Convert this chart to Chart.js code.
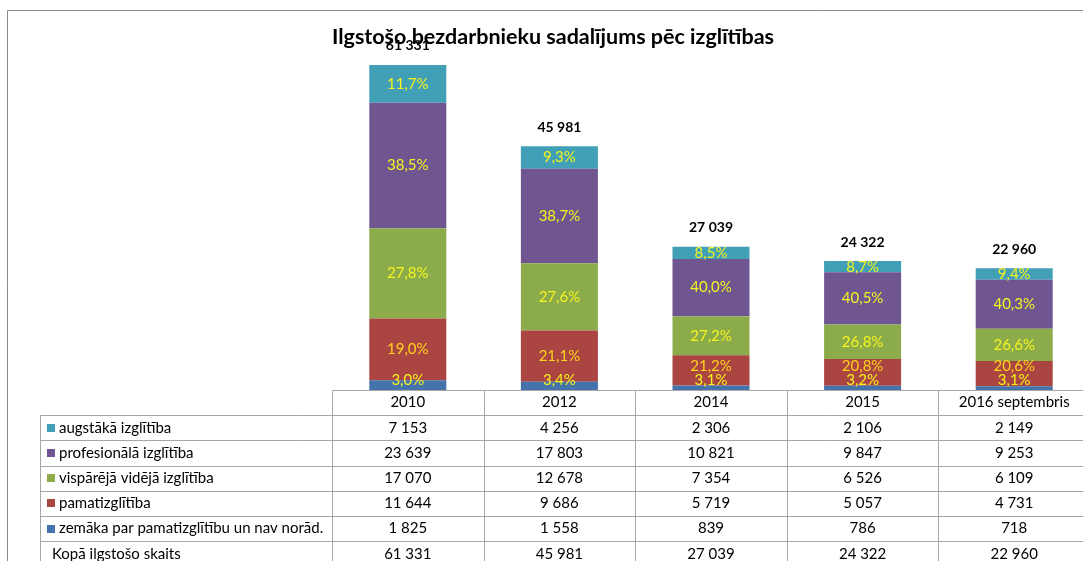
<!DOCTYPE html>
<html>
<head>
<meta charset="utf-8">
<script src="https://cdn.jsdelivr.net/npm/chart.js@4"></script>
<style>
  html, body { margin: 0; padding: 0; background: #fff; overflow: hidden; }
  canvas { display: block; }
</style>
</head>
<body>
<canvas id="chart" width="1090" height="561"></canvas>
<script>
// data
const categories = ['2010', '2012', '2014', '2015', '2016 septembris'];
const augstaka = [7153, 4256, 2306, 2106, 2149];
const profesionala = [23639, 17803, 10821, 9847, 9253];
const visparejaVideja = [17070, 12678, 7354, 6526, 6109];
const pamatizglitiba = [11644, 9686, 5719, 5057, 4731];
const zemaka = [1825, 1558, 839, 786, 718];
const kopa = [61331, 45981, 27039, 24322, 22960];

const titleText = 'Ilgstošo bezdarbnieku sadalījums pēc izglītības';
const FONT = 'Lato, "Liberation Sans", sans-serif';

// bottom -> top in the stack
const series = [
  { label: 'zemāka par pamatizglītību un nav norād.', data: zemaka, color: '#4472AA' },
  { label: 'pamatizglītība', data: pamatizglitiba, color: '#AA4541' },
  { label: 'vispārējā vidējā izglītība', data: visparejaVideja, color: '#8CAB4B' },
  { label: 'profesionālā izglītība', data: profesionala, color: '#6F5691' },
  { label: 'augstākā izglītība', data: augstaka, color: '#419FB6' }
];

function fmt(n) { return String(n).replace(/\B(?=(\d{3})+(?!\d))/g, ' '); }
function pct(v, t) { return (v / t * 100).toFixed(1).replace('.', ',') + '%'; }
function px(v) { return Math.round(v) + 0.5; }

const overlay = {
  id: 'overlay',
  afterDatasetsDraw(chart) {
    const ctx = chart.ctx;
    ctx.save();
    ctx.textAlign = 'center';
    ctx.textBaseline = 'middle';
    categories.forEach((c, i) => {
      let prevY = null;
      chart.data.datasets.forEach((ds, di) => {
        const bar = chart.getDatasetMeta(di).data[i];
        let y = (bar.y + bar.base) / 2;
        if (di === 0) y = Math.min(y, bar.base - 10);
        if (di === 1) y = Math.min(y, prevY - 14);
        prevY = y;
        ctx.font = '15px ' + FONT;
        ctx.fillStyle = di === 1 ? '#FFD21E' : '#F4F41E';
        ctx.fillText(pct(ds.data[i], kopa[i]), bar.x, y);
      });
      // total above the bar
      const topBar = chart.getDatasetMeta(series.length - 1).data[i];
      ctx.font = 'bold 14px ' + FONT;
      ctx.fillStyle = '#000';
      ctx.fillText(fmt(kopa[i]), topBar.x, topBar.y - 19);
    });
    ctx.restore();
  },
  afterDraw(chart) {
    const ctx = chart.ctx;
    const xs = chart.scales.x;
    const colW = (xs.right - xs.left) / categories.length;
    const top = chart.chartArea.bottom;
    const rowH = 25.2;
    const labelLeft = 40;
    const rows = series.slice().reverse().map(s => ({ label: s.label, data: s.data, color: s.color }));
    rows.push({ label: 'Kopā ilgstošo skaits', data: kopa, color: null });

    ctx.save();
    // outer frame
    ctx.strokeStyle = '#8a8a8a';
    ctx.lineWidth = 1;
    ctx.beginPath();
    ctx.moveTo(px(7), chart.height);
    ctx.lineTo(px(7), px(10));
    ctx.lineTo(chart.width, px(10));
    ctx.stroke();

    // title
    ctx.fillStyle = '#000';
    ctx.font = 'bold 21.5px ' + FONT;
    ctx.textAlign = 'center';
    ctx.textBaseline = 'middle';
    ctx.fillText(titleText, 553, 37);

    // table grid
    ctx.strokeStyle = '#a6a6a6';
    ctx.beginPath();
    ctx.moveTo(px(xs.left), px(top));
    ctx.lineTo(xs.right, px(top));
    for (let i = 0; i <= categories.length; i++) {
      const x = px(xs.left + i * colW);
      ctx.moveTo(x, px(top));
      ctx.lineTo(x, chart.height);
    }
    for (let r = 0; r <= rows.length; r++) {
      const y = px(top + rowH * (r + 1));
      ctx.moveTo(px(labelLeft), y);
      ctx.lineTo(xs.right, y);
    }
    ctx.moveTo(px(labelLeft), px(top + rowH));
    ctx.lineTo(px(labelLeft), chart.height);
    ctx.stroke();

    // header text
    ctx.font = '15px ' + FONT;
    ctx.fillStyle = '#000';
    categories.forEach((c, i) => {
      ctx.fillText(c, xs.left + (i + 0.5) * colW, top + rowH / 2);
    });

    // rows
    rows.forEach((row, r) => {
      const yc = top + rowH * (r + 1.5);
      if (row.color) {
        ctx.fillStyle = row.color;
        ctx.fillRect(47, Math.round(yc - 4), 8, 8);
      }
      ctx.fillStyle = '#000';
      ctx.textAlign = 'left';
      ctx.fillText(row.label, row.color ? 59 : 52, yc);
      ctx.textAlign = 'center';
      row.data.forEach((v, i) => {
        ctx.fillText(fmt(v), xs.left + (i + 0.5) * colW, yc);
      });
    });
    ctx.restore();
  }
};

new Chart(document.getElementById('chart'), {
  type: 'bar',
  data: {
    labels: categories,
    datasets: series.map(s => ({
      label: s.label,
      data: s.data,
      backgroundColor: s.color,
      borderWidth: 0,
      categoryPercentage: 1,
      barPercentage: 0.508
    }))
  },
  options: {
    responsive: false,
    animation: false,
    devicePixelRatio: 1,
    layout: { padding: { left: 332, right: 0, top: 19, bottom: 171 } },
    plugins: {
      legend: { display: false },
      title: { display: false },
      tooltip: { enabled: false }
    },
    scales: {
      x: { stacked: true, display: false },
      y: { stacked: true, display: false, min: 0, max: 70000 }
    }
  },
  plugins: [overlay]
});
</script>
</body>
</html>
